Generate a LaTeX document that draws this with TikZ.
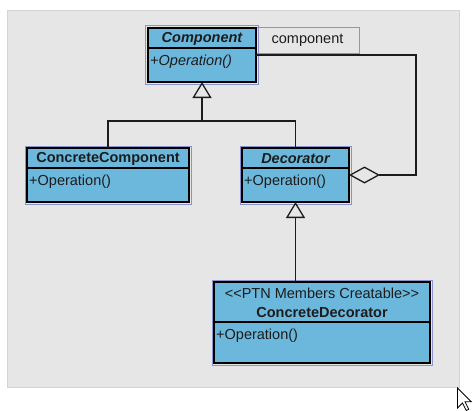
\documentclass[tikz,border=0pt]{standalone}
\usepackage{fontspec}
\setmainfont{Liberation Sans}
\usetikzlibrary{arrows.meta}
\definecolor{canvas}{RGB}{230,230,230}
\definecolor{canvasedge}{RGB}{212,212,212}
\definecolor{classfill}{RGB}{108,184,220}
\definecolor{selection}{RGB}{140,146,204}
\definecolor{ink}{RGB}{28,28,28}
\tikzset{
  classbox/.style={draw=black, line width=1.6pt, fill=classfill, inner sep=0pt, outer sep=0pt},
  selframe/.style={draw=selection, line width=1pt},
  divider/.style={draw=black, line width=1.3pt},
  nametext/.style={text=ink, inner sep=0pt, font=\fontsize{14.5}{17}\selectfont\bfseries},
  optext/.style={text=ink, inner sep=0pt, anchor=west, font=\fontsize{14.5}{17}\selectfont},
  rolebox/.style={draw=selection, line width=1pt, minimum width=103pt, minimum height=26pt,
                  inner sep=0pt, text=ink, font=\fontsize{14.5}{17}\selectfont},
  conn/.style={draw=ink, line width=1.3pt},
  gentip/.style={-{Triangle[open, length=16pt, width=19pt]}},
  aggtip/.style={{Diamond[open, length=31pt, width=17pt]}-},
}
\begin{document}
\begin{tikzpicture}[x=1pt, y=-1pt]
\useasboundingbox (0,0) rectangle (473,410);

% diagram canvas
\fill[canvas] (7,10) rectangle (459,387);
\draw[canvasedge, line width=0.8pt] (7,10) rectangle (459,387);

% role label of the aggregation end
\node[rolebox] (role) at (307.5,40) {component};

% Component (abstract)
\node[classbox, minimum width=108pt, minimum height=54pt] (comp) at (202,55) {};
\draw[selframe] ([shift={(-2.5,-2.5)}]comp.north west) rectangle ([shift={(2,2)}]comp.south east);
\draw[divider] ([yshift=-20pt]comp.north west) -- ([yshift=-20pt]comp.north east);
\node[nametext, font=\fontsize{14.5}{17}\selectfont\bfseries\itshape] (compname) at (202,38.5) {Component};
\node[optext, font=\fontsize{14.5}{17}\selectfont\itshape] (compop) at (150,62) {+Operation()};

% ConcreteComponent
\node[classbox, minimum width=162pt, minimum height=54pt] (cc) at (108,175) {};
\draw[selframe] ([shift={(-2,-2)}]cc.north west) rectangle ([shift={(2,2)}]cc.south east);
\draw[divider] ([yshift=-20pt]cc.north west) -- ([yshift=-20pt]cc.north east);
\node[nametext] (ccname) at (108,158.5) {ConcreteComponent};
\node[optext] (ccop) at (29,182) {+Operation()};

% Decorator (abstract)
\node[classbox, minimum width=107pt, minimum height=54pt] (dec) at (295.5,175) {};
\draw[selframe] ([shift={(-2,-2)}]dec.north west) rectangle ([shift={(2,2)}]dec.south east);
\draw[divider] ([yshift=-20pt]dec.north west) -- ([yshift=-20pt]dec.north east);
\node[nametext, font=\fontsize{14.5}{17}\selectfont\bfseries\itshape] (decname) at (295.5,158.5) {Decorator};
\node[optext] (decop) at (244,182) {+Operation()};

% ConcreteDecorator
\node[classbox, minimum width=216pt, minimum height=81pt] (cd) at (322,322.5) {};
\draw[selframe] ([shift={(-2,-2)}]cd.north west) rectangle ([shift={(2,2)}]cd.south east);
\draw[divider] ([yshift=-40pt]cd.north west) -- ([yshift=-40pt]cd.north east);
\node[text=ink, inner sep=0pt, font=\fontsize{14.5}{17}\selectfont] (cdstereo) at (322,293) {<{}<PTN Members Creatable>{}>};
\node[nametext] (cdname) at (322,313) {ConcreteDecorator};
\node[optext] (cdop) at (216,336) {+Operation()};

% generalizations
\coordinate (split) at (202,121);
\draw[conn] (cc.north) |- (split) -| (dec.north);
\draw[conn, gentip] (split) -- (comp.south);
\draw[conn, gentip] (dec.south |- cd.north) -- (dec.south);

% aggregation Decorator <>-- Component
\coordinate (bend) at (416,55);
\draw[conn, aggtip] (dec.east) -| (bend) -- (comp.east);

% mouse pointer
\begin{scope}[shift={(457.5,388)}]
  \draw[fill=white, draw=black, line width=0.8pt, line join=miter]
    (0,0) -- (0,20) -- (5,15) -- (8.75,22.5) -- (11.25,21.25) -- (7.5,13.75) -- (13.75,13.75) -- cycle;
\end{scope}
\end{tikzpicture}
\end{document}
